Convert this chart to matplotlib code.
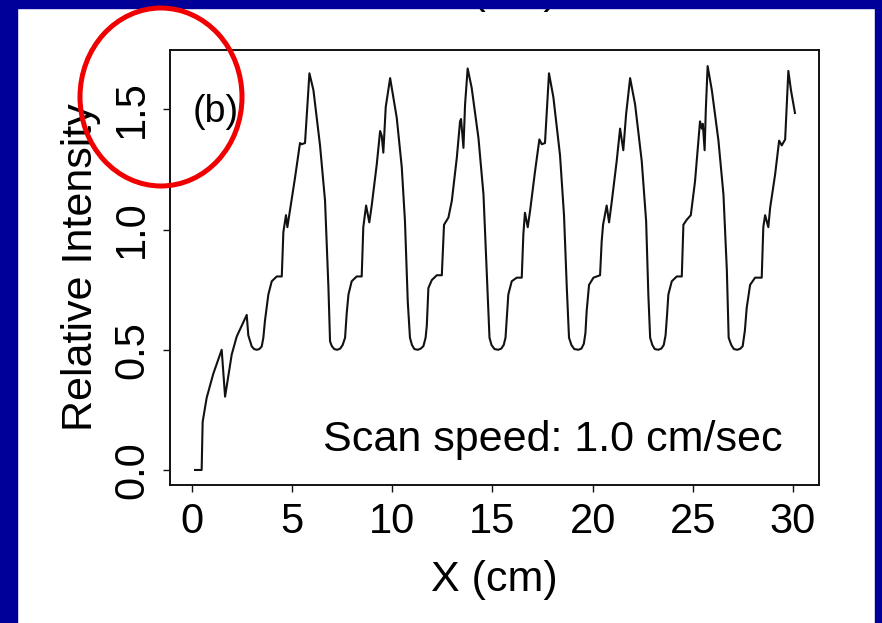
import matplotlib.pyplot as plt
from matplotlib.patches import Rectangle, Ellipse

plt.rcParams["font.family"] = ["Liberation Sans", "DejaVu Sans"]

# scan profile (X in cm, relative intensity)
x_cm = [
    0.15, 0.48, 0.53, 0.73, 1.06, 1.48, 1.65, 1.98, 2.23, 2.48, 2.73, 2.81, 2.98,
    3.10, 3.23, 3.36, 3.48, 3.56, 3.64, 3.81, 3.98, 4.23, 4.48, 4.56, 4.69, 4.76,
    4.89, 5.14, 5.39, 5.47, 5.64, 5.86, 6.06, 6.39, 6.64, 6.81, 6.89, 6.98, 7.10,
    7.25, 7.40, 7.52, 7.64, 7.72, 7.81, 7.97, 8.22, 8.47, 8.55, 8.69, 8.85, 8.97,
    9.22, 9.39, 9.47, 9.55, 9.67, 9.89, 10.22, 10.47, 10.63, 10.77, 10.88, 10.98,
    11.10, 11.27, 11.42, 11.55, 11.66, 11.72, 11.80, 11.97, 12.22, 12.47, 12.58,
    12.80, 12.97, 13.22, 13.38, 13.43, 13.55, 13.63, 13.76, 13.96, 14.30, 14.55,
    14.71, 14.85, 14.95, 15.10, 15.29, 15.44, 15.56, 15.65, 15.72, 15.79, 15.96,
    16.21, 16.46, 16.54, 16.62, 16.76, 16.88, 17.12, 17.34, 17.46, 17.62, 17.82,
    18.04, 18.37, 18.57, 18.71, 18.82, 18.94, 19.08, 19.29, 19.44, 19.56, 19.64,
    19.70, 19.82, 20.04, 20.37, 20.45, 20.52, 20.70, 20.82, 20.96, 21.20, 21.37,
    21.53, 21.67, 21.87, 22.12, 22.45, 22.67, 22.78, 22.87, 22.98, 23.10, 23.28,
    23.43, 23.55, 23.64, 23.71, 23.78, 23.95, 24.20, 24.45, 24.53, 24.69, 24.90,
    25.11, 25.36, 25.45, 25.50, 25.59, 25.65, 25.74, 25.95, 26.28, 26.53, 26.70,
    26.79, 26.92, 27.05, 27.23, 27.38, 27.49, 27.60, 27.69, 27.86, 28.11, 28.44,
    28.52, 28.61, 28.77, 28.86, 29.11, 29.31, 29.44, 29.61, 29.77, 29.90, 30.10,
]
intensity = [
    0.00, 0.00, 0.20, 0.30, 0.40, 0.50, 0.305, 0.48, 0.555, 0.60, 0.645, 0.56, 0.514,
    0.503, 0.50, 0.503, 0.514, 0.55, 0.62, 0.73, 0.785, 0.805, 0.805, 0.99, 1.06, 1.01,
    1.08, 1.215, 1.36, 1.355, 1.36, 1.65, 1.58, 1.35, 1.12, 0.757, 0.535, 0.515, 0.503,
    0.50, 0.505, 0.52, 0.55, 0.65, 0.73, 0.785, 0.805, 0.805, 1.01, 1.10, 1.03, 1.10,
    1.27, 1.41, 1.39, 1.32, 1.51, 1.63, 1.465, 1.26, 1.035, 0.70, 0.55, 0.52,
    0.503, 0.50, 0.505, 0.515, 0.55, 0.60, 0.757, 0.79, 0.81, 0.81, 1.02,
    1.05, 1.12, 1.30, 1.45, 1.46, 1.34, 1.52, 1.67, 1.59, 1.38, 1.146,
    0.83, 0.55, 0.52, 0.503, 0.50, 0.505, 0.52, 0.55, 0.64, 0.73, 0.785,
    0.80, 0.80, 0.98, 1.07, 1.01, 1.08, 1.24, 1.375, 1.355, 1.36, 1.65,
    1.55, 1.31, 1.06, 0.757, 0.55, 0.52, 0.503, 0.50, 0.505, 0.525, 0.57,
    0.66, 0.77, 0.80, 0.81, 0.95, 1.02, 1.10, 1.03, 1.12, 1.285, 1.42,
    1.33, 1.48, 1.63, 1.52, 1.285, 1.035, 0.73, 0.55, 0.52, 0.503, 0.50,
    0.505, 0.52, 0.56, 0.64, 0.73, 0.785, 0.805, 0.805, 1.02, 1.04, 1.06,
    1.20, 1.45, 1.42, 1.44, 1.33, 1.50, 1.68, 1.58, 1.37, 1.146, 0.83,
    0.55, 0.52, 0.503, 0.50, 0.505, 0.515, 0.58, 0.674, 0.77, 0.80, 0.80,
    1.01, 1.06, 1.01, 1.09, 1.23, 1.37, 1.35, 1.375, 1.66, 1.58, 1.485,
]

x_ticks = [0, 5, 10, 15, 20, 25, 30]
y_ticks = [0.0, 0.5, 1.0, 1.5]
y_tick_labels = ["0.0", "0.5", "1.0", "1.5"]

W, H = 882, 623
fig = plt.figure(figsize=(W / 100, H / 100), dpi=100)
fig.patch.set_facecolor("white")

ax = fig.add_axes([170 / W, 1 - 485 / H, (819 - 170) / W, (485 - 50) / H])
ax.plot(x_cm, intensity, color="#111111", linewidth=1.5, solid_joinstyle="round")

ax.set_xlim(-1.1, 31.3)
ax.set_ylim(-0.0625, 1.747)
ax.set_xticks(x_ticks)
ax.set_yticks(y_ticks)
ax.set_yticklabels(y_tick_labels)

ax.tick_params(axis="both", direction="out", length=5, width=1, labelsize=30,
               colors="#111111", labelcolor="black")
ax.tick_params(axis="x", pad=7)
ax.tick_params(axis="y", pad=8, labelrotation=90)
for lab in ax.get_yticklabels():
    lab.set_va("center")

for sp in ax.spines.values():
    sp.set_linewidth(1.4)
    sp.set_color("#111111")

ax.set_xlabel("X (cm)", fontsize=31)
ax.xaxis.set_label_coords(0.5, -0.172)
ax.set_ylabel("Relative Intensity", fontsize=31, va="center")
ax.yaxis.set_label_coords(-0.137, 0.5)

ax.text(0.071, 0.857, "(b)", transform=ax.transAxes, fontsize=27,
        ha="center", va="center")
ax.text(0.9445, 0.103, "Scan speed: 1.0 cm/sec", transform=ax.transAxes,
        fontsize=31, ha="right", va="center")

# bottom of the panel above, mostly hidden under the frame
fig.text(0.5 * (170 + 819) / W, 1 - 12 / H, "X (cm)", fontsize=31,
         ha="center", va="bottom", zorder=5)

# blue slide frame
blue = "#000099"
fig.add_artist(Rectangle((0, 0), 17 / W, 1, transform=fig.transFigure,
                         color=blue, zorder=20))
fig.add_artist(Rectangle((875 / W, 0), 7 / W, 1, transform=fig.transFigure,
                         color=blue, zorder=20))
fig.add_artist(Rectangle((0, 1 - 8 / H), 1, 8 / H, transform=fig.transFigure,
                         color=blue, zorder=20))

# red highlight circle around the 1.5 tick
fig.add_artist(Ellipse((161 / W, 1 - 97 / H), 162 / W, 178 / H,
                       transform=fig.transFigure, fill=False,
                       edgecolor="#f00000", linewidth=3.6, zorder=21))

fig.savefig("out.png", dpi=100)
